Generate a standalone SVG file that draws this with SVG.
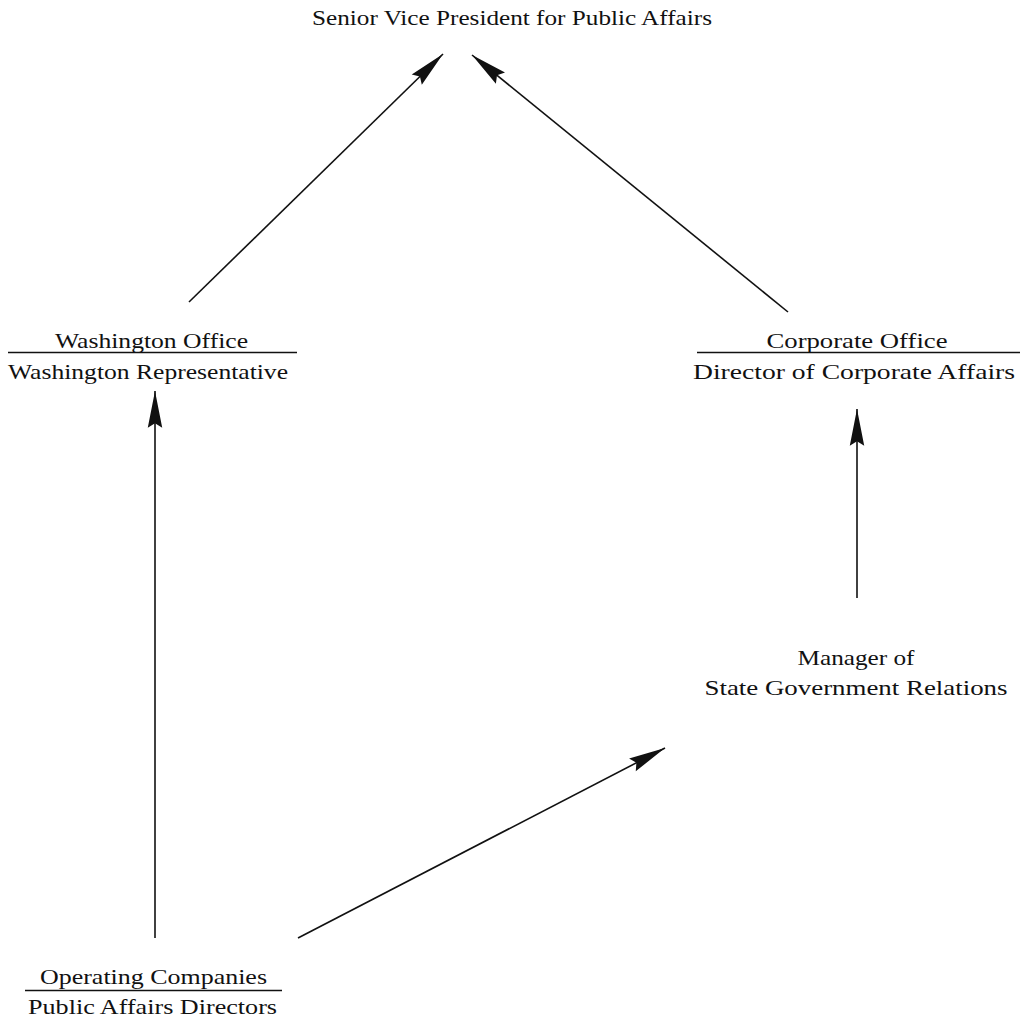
<svg xmlns="http://www.w3.org/2000/svg" width="1024" height="1025" viewBox="0 0 1024 1025">
  <style>
    text { font-family: "Liberation Serif", "DejaVu Serif", serif; font-size: 22px; fill: #111; text-anchor: middle; }
    .rule { stroke: #111; stroke-width: 1.3; }
    .conn { stroke: #111; stroke-width: 1.6; fill: none; marker-end: url(#head); }
  </style>
  <defs>
    <marker id="head" markerUnits="userSpaceOnUse" markerWidth="40" markerHeight="20" refX="0" refY="0" viewBox="-34 -8 36 16" orient="auto" overflow="visible">
      <path d="M0,0 L-33,-6.5 L-29,0 L-33,6.5 Z" fill="#111"/>
    </marker>
  </defs>
  <rect width="1024" height="1025" fill="#fff"/>

  <g id="node-svp">
    <text x="512" y="25" textLength="400" lengthAdjust="spacingAndGlyphs">Senior Vice President for Public Affairs</text>
  </g>

  <g id="node-washington">
    <text x="151.5" y="348" textLength="193" lengthAdjust="spacingAndGlyphs">Washington Office</text>
    <line class="rule" x1="8" y1="352.5" x2="297" y2="352.5"/>
    <text x="148" y="379" textLength="280" lengthAdjust="spacingAndGlyphs">Washington Representative</text>
  </g>

  <g id="node-corporate">
    <text x="857" y="348" textLength="181" lengthAdjust="spacingAndGlyphs">Corporate Office</text>
    <line class="rule" x1="697" y1="352.5" x2="1020" y2="352.5"/>
    <text x="854" y="379" textLength="322" lengthAdjust="spacingAndGlyphs">Director of Corporate Affairs</text>
  </g>

  <g id="node-state">
    <text x="856" y="665" textLength="117" lengthAdjust="spacingAndGlyphs">Manager of</text>
    <text x="856" y="695" textLength="303" lengthAdjust="spacingAndGlyphs">State Government Relations</text>
  </g>

  <g id="node-operating">
    <text x="153.5" y="984" textLength="227" lengthAdjust="spacingAndGlyphs">Operating Companies</text>
    <line class="rule" x1="25" y1="990.5" x2="282" y2="990.5"/>
    <text x="152.5" y="1014" textLength="249" lengthAdjust="spacingAndGlyphs">Public Affairs Directors</text>
  </g>

  <g id="connectors">
    <line class="conn" x1="189" y1="302" x2="443" y2="54"/>
    <line class="conn" x1="788" y1="312" x2="472" y2="55"/>
    <line class="conn" x1="155" y1="938" x2="155" y2="391"/>
    <line class="conn" x1="857" y1="598" x2="857" y2="409"/>
    <line class="conn" x1="298" y1="938" x2="665" y2="748"/>
  </g>
</svg>
